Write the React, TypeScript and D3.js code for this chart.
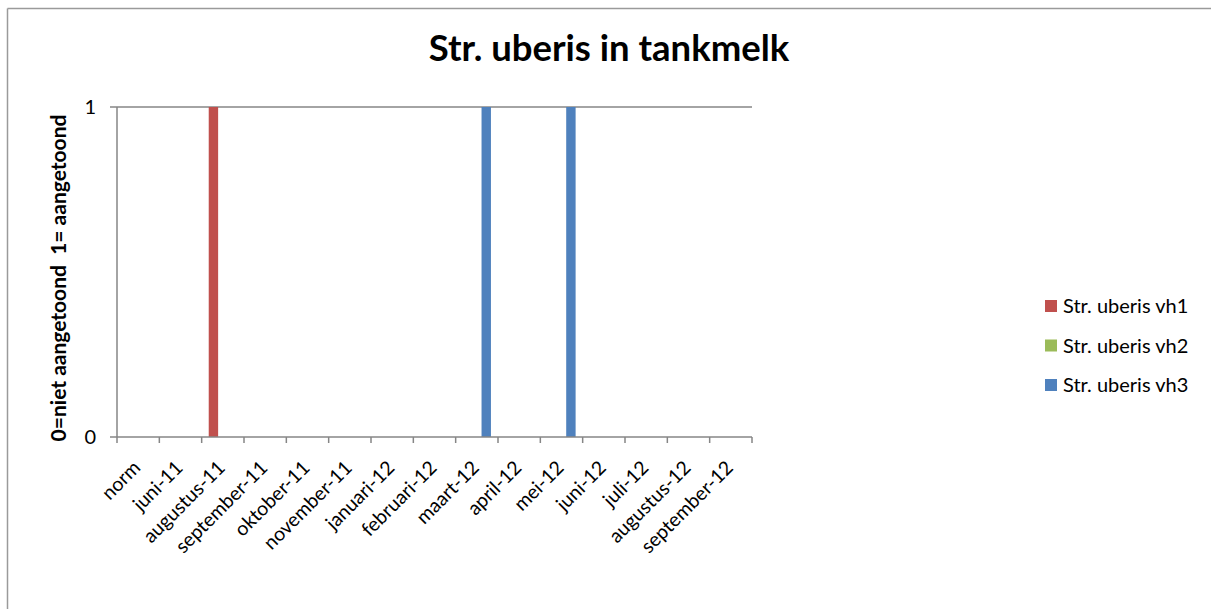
import React from "react";
import * as d3 from "d3";

const categories = [
  "norm", "juni-11", "augustus-11", "september-11", "oktober-11", "november-11",
  "januari-12", "februari-12", "maart-12", "april-12", "mei-12", "juni-12",
  "juli-12", "augustus-12", "september-12",
];
const seriesNames = ["Str. uberis vh1", "Str. uberis vh2", "Str. uberis vh3"];
const seriesColors = ["#C0504D", "#9BBB59", "#4F81BD"];
const vh1 = [0, 0, 1, 0, 0, 0, 0, 0, 0, 0, 0, 0, 0, 0, 0];
const vh2 = [0, 0, 0, 0, 0, 0, 0, 0, 0, 0, 0, 0, 0, 0, 0];
const vh3 = [0, 0, 0, 0, 0, 0, 0, 0, 1, 0, 1, 0, 0, 0, 0];
const yTicks = [0, 1];
const title = "Str. uberis in tankmelk";
const yLabel = "0=niet aangetoond  1= aangetoond";

const W = 1211;
const H = 609;
const plot = { left: 117, right: 752, top: 107, bottom: 437 };
const font = "Lato, 'Open Sans', sans-serif";
const axisColor = "#868686";

export default function App() {
  const series = [vh1, vh2, vh3];
  const x0 = d3.scaleBand<string>().domain(categories).range([plot.left, plot.right]).paddingInner(0).paddingOuter(0);
  const bw = x0.bandwidth();
  const barW = bw / 4.5;
  const x1 = d3.scaleBand<string>().domain(seriesNames).range([(bw - 3 * barW) / 2, (bw + 3 * barW) / 2]);
  const y = d3.scaleLinear().domain([0, 1]).range([plot.bottom, plot.top]);

  return (
    <svg width={W} height={H} style={{ position: "absolute", left: 0, top: 0, background: "#fff" }}>
      <rect x={0} y={0} width={W} height={H} fill="#fff" />
      <line x1={7.5} y1={8.5} x2={7.5} y2={H} stroke="#9a9a9a" strokeWidth={1.5} />
      <line x1={7.5} y1={8.5} x2={W} y2={8.5} stroke="#9a9a9a" strokeWidth={1.5} />
      <text x={609} y={61} textAnchor="middle" fontFamily={font} fontWeight="bold" fontSize={36.5} fill="#000">
        {title}
      </text>
      {yTicks.filter((t) => t > 0).map((t) => (
        <line key={"g" + t} x1={plot.left} x2={plot.right} y1={y(t)} y2={y(t)} stroke={axisColor} strokeWidth={1.5} />
      ))}
      {series.map((vals, si) =>
        vals.map((v, ci) =>
          v > 0 ? (
            <rect
              key={si + "-" + ci}
              x={(x0(categories[ci]) as number) + (x1(seriesNames[si]) as number)}
              y={y(v)}
              width={x1.bandwidth()}
              height={y(0) - y(v)}
              fill={seriesColors[si]}
            />
          ) : null
        )
      )}
      <line x1={plot.left} x2={plot.left} y1={plot.top} y2={plot.bottom} stroke={axisColor} strokeWidth={1.5} />
      {yTicks.map((t) => (
        <g key={"yt" + t}>
          <line x1={plot.left - 7} x2={plot.left} y1={y(t)} y2={y(t)} stroke={axisColor} strokeWidth={1.5} />
          <text x={plot.left - 21} y={y(t)} dy="0.36em" textAnchor="end" fontFamily={font} fontSize={20} fill="#000">
            {t}
          </text>
        </g>
      ))}
      <line x1={plot.left} x2={plot.right} y1={plot.bottom} y2={plot.bottom} stroke={axisColor} strokeWidth={1.5} />
      {categories.map((c, i) => (
        <line key={"xt" + i} x1={x0(c) as number} x2={x0(c) as number} y1={plot.bottom} y2={plot.bottom + 6} stroke={axisColor} strokeWidth={1.5} />
      ))}
      <line x1={plot.right} x2={plot.right} y1={plot.bottom} y2={plot.bottom} stroke={axisColor} strokeWidth={1.5} />
      <line x1={plot.right} x2={plot.right} y1={plot.bottom} y2={plot.bottom + 6} stroke={axisColor} strokeWidth={1.5} />
      {categories.map((c, i) => {
        const cx = (x0(c) as number) + bw / 2 + 3.5;
        const cy = plot.bottom + 32;
        return (
          <text
            key={"xl" + i}
            transform={`translate(${cx},${cy}) rotate(-45)`}
            textAnchor="end"
            fontFamily={font}
            fontSize={19.5}
            fill="#000"
          >
            {c}
          </text>
        );
      })}
      <text
        transform={`translate(66,278) rotate(-90)`}
        textAnchor="middle"
        fontFamily={font}
        fontWeight="bold"
        fontSize={21}
        fill="#000"
        style={{ whiteSpace: "pre" }}
      >
        {yLabel}
      </text>
      {seriesNames.map((s, i) => (
        <g key={"lg" + i} transform={`translate(1045,${306 + i * 39.5})`}>
          <rect x={0} y={-6} width={12} height={12} fill={seriesColors[i]} />
          <text x={18} y={0} dy="0.36em" fontFamily={font} fontSize={20} fill="#000">
            {s}
          </text>
        </g>
      ))}
    </svg>
  );
}
